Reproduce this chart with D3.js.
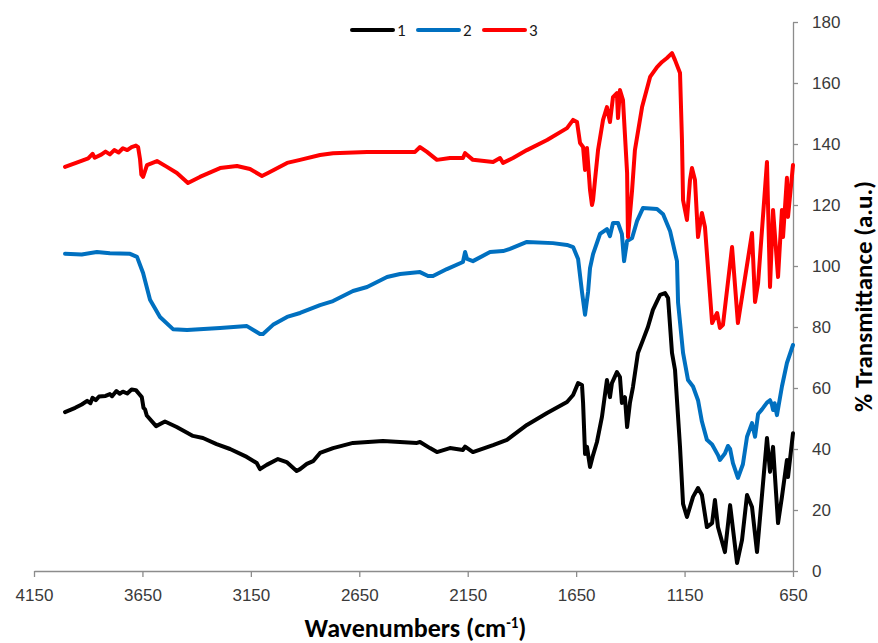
<!DOCTYPE html>
<html>
<head>
<meta charset="utf-8">
<script src="https://cdn.jsdelivr.net/npm/d3@7"></script>
<style>
  body { margin: 0; background: #fff; }
  svg { display: block; font-family: Carlito, Lato, "Liberation Sans", sans-serif; }
  .axis path, .axis line { stroke: #8c8c8c; stroke-width: 1.3; }
  .axis text { fill: #3a3a3a; font-size: 17px; }
</style>
</head>
<body>
<svg width="878" height="643"></svg>
<script>
// spectra: [wavenumber cm-1, % transmittance]
var series1 = [
  [4007, 52.1], [3960, 53.5], [3930, 54.6], [3905, 55.8], [3890, 55.0], [3880, 56.8],
  [3865, 56.0], [3850, 57.2], [3820, 57.4], [3800, 58.0], [3790, 57.3], [3770, 59.0],
  [3755, 58.1], [3740, 58.8], [3720, 58.2], [3700, 59.5], [3680, 59.3], [3665, 58.0],
  [3653, 57.0], [3645, 53.5], [3638, 53.0], [3630, 51.0], [3587, 47.5], [3546, 49.0],
  [3492, 47.2], [3417, 44.3], [3371, 43.6], [3308, 41.6], [3246, 40.0], [3169, 37.4],
  [3123, 35.4], [3108, 33.4], [3077, 34.8], [3025, 36.7], [2985, 35.7], [2939, 32.8],
  [2923, 33.4], [2892, 35.1], [2863, 36.0], [2831, 38.7], [2771, 40.3], [2679, 42.0],
  [2541, 42.6], [2384, 42.0], [2370, 42.3], [2324, 40.3], [2292, 39.0], [2232, 40.3],
  [2172, 39.7], [2162, 40.8], [2126, 39.0], [2033, 41.3], [1969, 43.0], [1877, 47.9],
  [1784, 51.8], [1692, 55.4], [1664, 57.7], [1641, 61.6], [1623, 61.0], [1618, 55.1],
  [1609, 38.4], [1600, 40.7], [1586, 34.1], [1572, 38.0], [1554, 42.3], [1531, 50.5],
  [1508, 62.6], [1494, 57.0], [1485, 61.6], [1462, 65.2], [1448, 63.6], [1439, 55.1],
  [1425, 57.0], [1415, 47.2], [1402, 55.1], [1388, 60.3], [1365, 71.5], [1342, 75.7],
  [1319, 80.0], [1296, 85.6], [1263, 90.5], [1240, 91.1], [1226, 89.5], [1208, 71.5],
  [1194, 65.9], [1171, 40.7], [1157, 22.0], [1139, 17.7], [1111, 24.3], [1088, 27.2],
  [1070, 24.9], [1047, 14.4], [1023, 15.7], [1010, 23.3], [996, 14.4], [964, 6.2],
  [940, 21.6], [908, 2.6], [885, 10.2], [862, 24.9], [839, 21.0], [816, 6.2],
  [770, 43.6], [756, 32.5], [742, 40.7], [719, 15.7], [701, 24.3], [678, 36.4],
  [673, 30.8], [650, 45.2]
];

var series2 = [
  [4007, 104.0], [3930, 103.8], [3860, 104.6], [3800, 104.2], [3707, 104.0], [3675, 103.0],
  [3647, 97.7], [3615, 88.9], [3569, 83.3], [3509, 79.3], [3444, 79.0], [3292, 79.7],
  [3168, 80.3], [3108, 77.7], [3094, 77.7], [3048, 80.7], [2983, 83.3], [2923, 84.6],
  [2831, 87.2], [2771, 88.5], [2679, 91.8], [2614, 93.1], [2522, 96.4], [2462, 97.4],
  [2370, 98.0], [2333, 96.7], [2310, 96.7], [2246, 99.0], [2172, 101.3], [2162, 104.6],
  [2153, 102.3], [2126, 101.6], [2047, 104.6], [1987, 104.9], [1955, 105.6], [1877, 107.9],
  [1757, 107.5], [1692, 106.9], [1664, 106.2], [1641, 102.3], [1623, 91.5], [1609, 84.0],
  [1595, 91.5], [1586, 99.3], [1572, 103.9], [1540, 110.5], [1508, 112.1], [1494, 109.8],
  [1480, 114.1], [1457, 114.1], [1439, 110.5], [1429, 101.6], [1415, 108.2], [1392, 109.2],
  [1369, 114.8], [1342, 119.0], [1277, 118.7], [1249, 117.0], [1217, 111.5], [1185, 101.6],
  [1180, 88.0], [1157, 71.5], [1134, 62.6], [1111, 60.5], [1088, 56.0], [1070, 49.0],
  [1047, 43.0], [1023, 41.5], [996, 38.0], [987, 36.4], [964, 38.5], [950, 41.0],
  [940, 40.0], [927, 35.4], [904, 30.5], [881, 35.0], [862, 44.0], [839, 48.5],
  [825, 44.0], [811, 51.5], [793, 53.0], [770, 55.2], [756, 56.0], [747, 54.5],
  [742, 52.8], [735, 55.0], [724, 51.1], [701, 60.5], [678, 68.2], [650, 74.1]
];

var series3 = [
  [4007, 132.5], [3950, 134.0], [3900, 135.3], [3880, 136.8], [3870, 135.5], [3840, 136.5],
  [3820, 137.5], [3800, 136.6], [3780, 138.0], [3760, 137.2], [3740, 138.6], [3720, 138.0],
  [3700, 139.0], [3680, 139.5], [3670, 139.0], [3661, 135.0], [3655, 130.0], [3647, 129.2],
  [3629, 133.1], [3583, 134.4], [3537, 132.5], [3491, 130.5], [3440, 127.2], [3385, 129.2],
  [3292, 132.1], [3214, 132.8], [3154, 131.8], [3099, 129.5], [3071, 130.5], [2983, 133.8],
  [2923, 134.8], [2831, 136.4], [2771, 137.0], [2614, 137.4], [2462, 137.4], [2393, 137.4],
  [2370, 139.0], [2338, 137.4], [2292, 134.8], [2232, 135.4], [2172, 135.4], [2162, 137.0],
  [2126, 134.8], [2033, 134.1], [2001, 135.4], [1987, 133.8], [1941, 135.4], [1877, 138.0],
  [1784, 141.3], [1692, 145.2], [1664, 147.9], [1646, 147.2], [1632, 140.3], [1618, 139.0],
  [1609, 131.5], [1600, 138.7], [1586, 124.9], [1577, 120.0], [1572, 121.6], [1563, 128.2],
  [1549, 138.0], [1526, 147.9], [1508, 152.1], [1494, 147.2], [1480, 155.4], [1462, 156.7],
  [1457, 148.5], [1448, 157.7], [1434, 154.4], [1415, 130.5], [1411, 109.5], [1392, 124.9],
  [1379, 138.0], [1346, 152.1], [1309, 162.0], [1277, 165.2], [1254, 166.9], [1231, 168.2],
  [1208, 169.8], [1194, 167.5], [1171, 163.3], [1162, 141.3], [1157, 121.6], [1139, 115.1],
  [1125, 128.2], [1116, 132.1], [1102, 128.2], [1088, 109.5], [1070, 117.4], [1056, 112.8],
  [1023, 81.3], [1000, 84.6], [987, 79.7], [973, 80.7], [931, 106.2], [904, 81.3],
  [839, 110.8], [825, 88.2], [811, 94.4], [770, 134.1], [756, 93.1], [742, 118.4],
  [719, 96.4], [701, 118.4], [696, 109.5], [678, 128.9], [673, 116.1], [650, 133.1]
];

var seriesNames = ["1", "2", "3"];
var seriesColors = ["#000000", "#0070c0", "#ff0000"];
var xTicks = [4150, 3650, 3150, 2650, 2150, 1650, 1150, 650];
var yTicks = [0, 20, 40, 60, 80, 100, 120, 140, 160, 180];

var svg = d3.select("svg"),
  margin = { top: 22, right: 85, bottom: 72, left: 34 },
  width = +svg.attr("width") - margin.left - margin.right,
  height = +svg.attr("height") - margin.top - margin.bottom,
  g = svg.append("g").attr("transform", "translate(" + margin.left + "," + margin.top + ")");

var x = d3.scaleLinear().domain([4150, 650]).range([0, width]);
var y = d3.scaleLinear().domain([0, 180]).range([height, 0]);

// axes
g.append("g")
  .attr("class", "axis axisx")
  .attr("transform", "translate(0," + height + ")")
  .call(d3.axisBottom(x).tickValues(xTicks).tickSize(6).tickSizeOuter(0).tickPadding(12).tickFormat(d3.format("d")));

g.append("g")
  .attr("class", "axis axisy")
  .attr("transform", "translate(" + width + ",0)")
  .call(d3.axisRight(y).tickValues(yTicks).tickSize(5).tickSizeOuter(0).tickPadding(14));

// lines
var line = d3.line()
  .x(function(d) { return x(d[0]); })
  .y(function(d) { return y(d[1]); })
  .curve(d3.curveLinear);

[series1, series2, series3].forEach(function(s, i) {
  g.append("path")
    .datum(s)
    .attr("fill", "none")
    .attr("stroke", seriesColors[i])
    .attr("stroke-width", 4)
    .attr("stroke-linejoin", "round")
    .attr("stroke-linecap", "round")
    .attr("d", line);
});

// legend
var legend = svg.append("g").attr("transform", "translate(352,30)");
seriesNames.forEach(function(name, i) {
  var lg = legend.append("g").attr("transform", "translate(" + (i * 66) + ",0)");
  lg.append("line")
    .attr("x1", 0).attr("x2", 41)
    .attr("stroke", seriesColors[i])
    .attr("stroke-width", 4)
    .attr("stroke-linecap", "round");
  lg.append("text")
    .attr("x", 45).attr("y", 6)
    .attr("font-size", "17px")
    .attr("fill", "#1a1a1a")
    .text(name);
});

// axis titles
var xt = svg.append("text")
  .attr("x", margin.left + width / 2 + 2)
  .attr("y", 637)
  .attr("text-anchor", "middle")
  .attr("font-size", "26px")
  .attr("font-weight", "bold")
  .text("Wavenumbers (cm");
xt.append("tspan").attr("baseline-shift", "super").attr("font-size", "15px").text("-1");
xt.append("tspan").text(")");

svg.append("text")
  .attr("transform", "translate(872," + (margin.top + height / 2) + ") rotate(-90)")
  .attr("text-anchor", "middle")
  .attr("font-size", "25px")
  .attr("font-weight", "bold")
  .text("% Transmittance (a.u.)");
</script>
</body>
</html>
